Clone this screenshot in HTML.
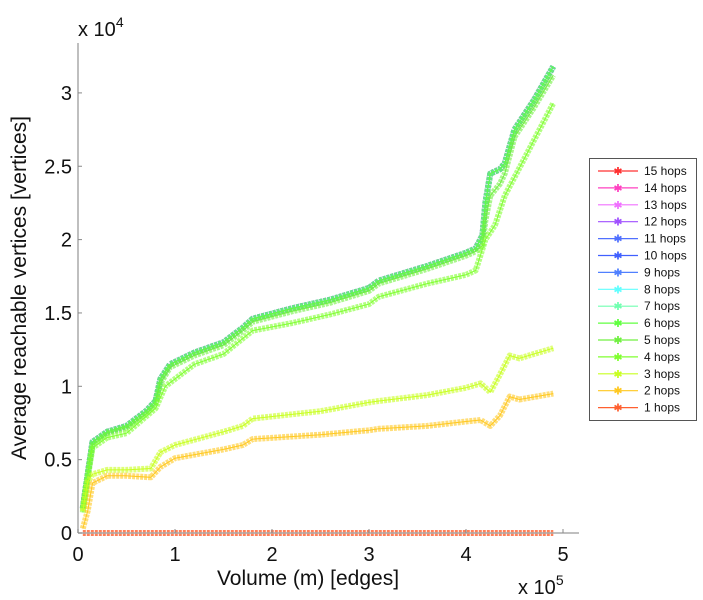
<!DOCTYPE html>
<html><head><meta charset="utf-8"><style>
body{margin:0;background:#fff;}
svg{display:block;font-family:"Liberation Sans",sans-serif;}
</style></head><body>
<svg id="chart" width="703" height="600">
<g id="series"></g>
<g id="axes"></g>
<g id="legend"></g>
</svg>
<script>
const hops = [15,14,13,12,11,10,9,8,7,6,5,4,3,2,1];
const colors = ["#ff3030","#ff40c0","#f070ff","#a050ff","#5070ff","#4060ff","#5080ff","#60ffff","#70ffb0","#60ff40","#70f040","#80ff30","#c8ff20","#ffc820","#ff6030"];
const xTop = [0.05,0.1,0.15,0.3,0.5,0.7,0.8,0.85,0.95,1.2,1.5,1.7,1.8,2.2,2.6,3.0,3.1,3.6,4.0,4.1,4.17,4.2,4.25,4.35,4.4,4.5,4.7,4.9];
const yTop = [1.7,4.0,6.2,6.9,7.3,8.3,9.0,10.5,11.5,12.3,13.0,14.0,14.6,15.3,15.9,16.7,17.2,18.2,19.1,19.4,20.3,22.5,24.5,24.8,25.2,27.5,29.5,31.8];
const yHop5 = [1.6,3.9,6.0,6.8,7.2,8.1,8.8,10.2,11.3,12.1,12.8,13.8,14.4,15.1,15.7,16.5,17.0,18.0,18.9,19.2,19.6,21.3,23.0,23.8,24.5,27.0,29.0,31.2];
const xHop4 = [0.05,0.1,0.15,0.3,0.5,0.8,0.9,1.2,1.5,1.8,2.2,2.6,3.0,3.1,3.6,4.0,4.1,4.2,4.3,4.4,4.6,4.9];
const yHop4 = [1.4,3.8,5.8,6.5,6.8,8.5,10.0,11.5,12.2,13.8,14.3,14.9,15.6,16.1,17.0,17.6,17.9,20.0,21.0,23.0,25.5,29.3];
const xLow = [0.05,0.1,0.15,0.3,0.5,0.75,0.85,1.0,1.5,1.7,1.8,2.5,3.0,3.1,3.6,4.0,4.15,4.25,4.35,4.45,4.55,4.9];
const yHop3 = [1.5,3.5,4.0,4.3,4.3,4.4,5.5,6.0,6.9,7.3,7.8,8.3,8.9,9.0,9.4,9.9,10.2,9.6,10.8,12.1,11.9,12.6];
const yHop2 = [0.3,1.5,3.4,3.9,3.9,3.8,4.5,5.1,5.7,6.0,6.4,6.7,7.0,7.1,7.3,7.6,7.7,7.3,8.0,9.3,9.1,9.5];
const xHop1 = [0.05,0.5,1,1.5,2,2.5,3,3.5,4,4.5,4.9];
const yHop1 = [0,0,0,0,0,0,0,0,0,0,0];
const xTicks = [0,1,2,3,4,5];
const yTicks = [0,0.5,1,1.5,2,2.5,3];
const yTickLabels = ["0","0.5","1","1.5","2","2.5","3"];

const X0=78, XPX=97, Y0=533, YPX=146.7;
const sx = v => X0 + v*XPX;
const sy = v => Y0 - v*YPX/10;
const NS="http://www.w3.org/2000/svg";
function mk(tag, attrs, parent){const e=document.createElementNS(NS,tag);for(const k in attrs)e.setAttribute(k,attrs[k]);parent.appendChild(e);return e;}

function seriesFor(h){
  if(h>=6) return [xTop,yTop];
  if(h===5) return [xTop,yHop5];
  if(h===4) return [xHop4,yHop4];
  if(h===3) return [xLow,yHop3];
  if(h===2) return [xLow,yHop2];
  return [xHop1,yHop1];
}
const sg=document.getElementById('series');
hops.forEach((h,i)=>{
  const [xs,ys]=seriesFor(h);
  const pts=xs.map((x,j)=>sx(x).toFixed(1)+","+sy(ys[j]).toFixed(1)).join(" ");
  const g=mk('g',{},sg);
  
  
  const op = h===1 ? 0.8 : (h>=7 ? 0.35 : 0.6);
  const thick=mk('polyline',{points:pts,fill:"none",stroke:colors[i],"stroke-width":6,"stroke-opacity":op,"stroke-dasharray":"3 1","stroke-linejoin":"round"},g);
  
  
  const line=mk('polyline',{points:pts,fill:"none",stroke:colors[i],"stroke-width":1},g);
  
  
});

const ax=document.getElementById('axes');
let l=mk('line',{x1:78,y1:43,x2:78,y2:533,stroke:"#aaa","stroke-width":1.5},ax);

l=mk('line',{x1:78,y1:533,x2:579,y2:533,stroke:"#aaa","stroke-width":1.5},ax);

xTicks.forEach(t=>{
  mk('line',{x1:sx(t),y1:533,x2:sx(t),y2:529,stroke:"#888"},ax);
  const tx=mk('text',{x:sx(t),y:561,"font-size":20,"text-anchor":"middle",fill:"#111"},ax);
  tx.textContent=t;
  
});
yTicks.forEach((t,i)=>{
  mk('line',{x1:78,y1:sy(t*10),x2:82,y2:sy(t*10),stroke:"#888"},ax);
  const tx=mk('text',{x:72,y:sy(t*10)+7,"font-size":20,"text-anchor":"end",fill:"#111"},ax);
  tx.textContent=yTickLabels[i];
  
});
let t=mk('text',{x:78,y:36,"font-size":20,fill:"#111"},ax);
t.innerHTML='x 10<tspan dy="-9" font-size="14">4</tspan>';

t=mk('text',{x:518,y:594,"font-size":20,fill:"#111"},ax);
t.innerHTML='x 10<tspan dy="-9" font-size="14">5</tspan>';

t=mk('text',{x:308,y:585,"font-size":21,"text-anchor":"middle",fill:"#111"},ax);
t.textContent='Volume (m) [edges]';

t=mk('text',{x:0,y:0,"font-size":21,"text-anchor":"middle",fill:"#111",transform:"translate(26,288) rotate(-90)"},ax);
t.textContent='Average reachable vertices [vertices]';


const lg=document.getElementById('legend');
const box=mk('rect',{x:589.5,y:158.5,width:107,height:262,fill:"#fff",stroke:"#555"},lg);

hops.forEach((h,i)=>{
  const y=171+i*16.9;
  const g=mk('g',{},lg);
  
  
  mk('line',{x1:598,y1:y,x2:638,y2:y,stroke:colors[i],"stroke-width":1.2},g);
  const m=mk('text',{x:618,y:y+4,"font-size":11,"text-anchor":"middle",fill:colors[i]},g);
  m.textContent='✱';
  const tx=mk('text',{x:644,y:y+4,"font-size":12,fill:"#111"},g);
  tx.textContent=h+' hops';
});
</script>
</body></html>
